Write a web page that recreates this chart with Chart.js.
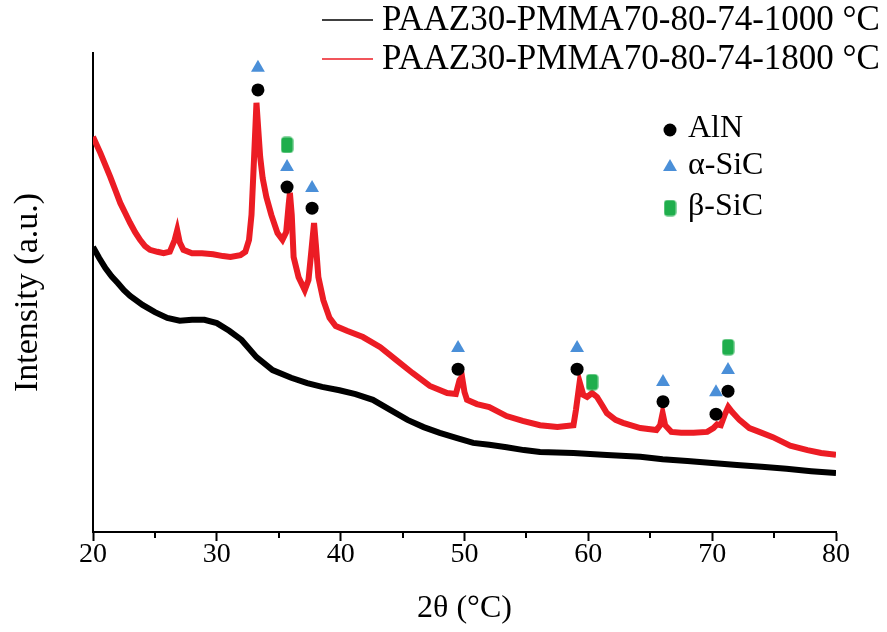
<!DOCTYPE html>
<html><head><meta charset="utf-8">
<script src="https://cdn.jsdelivr.net/npm/chart.js@4.4.0/dist/chart.umd.min.js"></script>
<style>html,body{margin:0;padding:0;background:#fff}</style>
</head><body>
<canvas id="c" width="887" height="632"></canvas>
<script>
// ---- data ----
const seriesNames = ['PAAZ30-PMMA70-80-74-1000 °C', 'PAAZ30-PMMA70-80-74-1800 °C'];
const xTicks = [20, 30, 40, 50, 60, 70, 80];
const xMinorTicks = [25, 35, 45, 55, 65, 75];

const s1000X = [20.0,20.5,21.0,21.5,22.0,22.5,23.0,24.0,25.0,26.0,27.0,28.0,29.0,30.0,31.0,32.0,33.2,34.5,36.0,37.3,38.5,39.9,41.2,42.6,44.0,45.4,46.7,48.0,49.4,50.7,52.0,53.4,54.8,56.1,58.8,61.5,64.2,66.0,68.0,70.0,72.0,74.0,76.0,78.0,80.0];
const s1000Y = [595,572,551,534,520,505,493,474,459,447,441,443,443,436,420,401,365,338,322,311,303,296,288,276,255,234,219,207,196,186,182,177,171,167,165,161,157,152,148,144,140,136,132,127,123];

const s1800X = [20.0,20.3,20.6,21.0,21.4,21.8,22.2,22.6,23.0,23.4,23.8,24.2,24.6,25.2,25.7,26.2,26.6,26.8,27.0,27.3,28.0,28.8,29.7,30.5,31.1,31.9,32.3,32.6,32.8,33.0,33.2,33.35,33.5,33.7,34.0,34.4,34.9,35.3,35.6,35.8,35.9,36.05,36.2,36.6,37.1,37.4,37.6,37.85,38.0,38.2,38.6,39.1,39.6,40.5,41.8,43.2,44.5,45.8,47.2,48.6,49.3,49.6,49.8,50.0,50.2,51.0,52.0,53.4,54.7,56.1,57.5,58.8,59.0,59.3,59.6,59.9,60.3,60.7,61.1,61.5,62.2,62.8,64.2,65.5,65.8,66.0,66.2,66.7,67.5,68.5,69.6,70.1,70.4,70.7,71.0,71.3,71.6,72.2,73.0,73.8,74.9,76.3,77.7,78.8,80.0];
const s1800Y = [825,808,791,766,741,714,687,666,645,626,610,597,589,585,582,585,610,630,605,589,582,582,580,576,574,578,585,610,662,777,896,839,783,739,699,662,624,610,626,683,708,662,574,532,505,526,578,645,599,532,484,447,430,420,407,386,359,332,305,290,288,317,324,292,276,267,261,242,232,223,219,223,255,313,286,282,290,282,265,248,234,228,217,213,223,248,223,209,207,207,209,217,225,223,244,261,251,234,217,209,198,180,171,165,161];

const phaseNames = ['AlN', 'α-SiC', 'β-SiC'];
const alnX = [33.32,35.67,37.69,49.48,59.09,66.03,70.31,71.28];
const alnY = [923,720,676,340,340,272,246,294];
const aSicX = [33.32,35.67,37.69,49.48,59.09,66.03,70.31,71.28];
const aSicY = [969,762,718,384,384,313,292,338];
const bSicX = [35.67,60.30,71.28];
const bSicY = [808,313,386];

// ---- styles ----
const RED = '#ec1c24', BLACK = '#000000', BLUE = '#4a8fd8', GREEN = '#1fae4c';
const SERIF = '"Liberation Serif", "Times New Roman", serif';

const pts = (xs, ys) => xs.map((x, i) => ({x, y: ys[i]}));

// rounded tall rectangle for beta-SiC
function makeGreen() {
  const c = document.createElement('canvas');
  c.width = 13; c.height = 17;
  const g = c.getContext('2d');
  g.fillStyle = GREEN;
  g.beginPath();
  g.roundRect(0.5, 0.5, 12, 16, 3.5);
  g.fill();
  return c;
}
const greenImg = makeGreen();

const markerStyles = [
  {pointStyle: 'circle', radius: 6.5, color: BLACK},
  {pointStyle: 'triangle', radius: 8, color: BLUE},
  {pointStyle: greenImg, radius: 8, color: GREEN}
];

const overlay = {
  id: 'overlay',
  afterDraw(chart) {
    const ctx = chart.ctx;
    const xs = chart.scales.x;
    const bottom = chart.chartArea.bottom;
    ctx.save();
    // minor ticks
    ctx.strokeStyle = '#000'; ctx.lineWidth = 2;
    xMinorTicks.forEach(v => {
      const px = Math.round(xs.getPixelForValue(v));
      ctx.beginPath(); ctx.moveTo(px, bottom); ctx.lineTo(px, bottom + 6); ctx.stroke();
    });
    // top legend
    ctx.font = '35px ' + SERIF;
    ctx.textBaseline = 'middle';
    ctx.fillStyle = '#000';
    const cols = [BLACK, RED];
    const ly = [20, 59];
    seriesNames.forEach((n, i) => {
      ctx.strokeStyle = cols[i]; ctx.lineWidth = 1.5;
      ctx.beginPath(); ctx.moveTo(322, ly[i]); ctx.lineTo(373, ly[i]); ctx.stroke();
      ctx.fillText(n, 382, ly[i] + 1);
    });
    // phase legend
    ctx.font = '32px ' + SERIF;
    const py = [130, 167, 208];
    phaseNames.forEach((n, i) => {
      const m = markerStyles[i];
      ctx.fillStyle = m.color; ctx.strokeStyle = m.color;
      Chart.helpers.drawPoint(ctx, {pointStyle: m.pointStyle, radius: m.radius, rotation: 0, borderWidth: 0}, 670, py[i]);
      ctx.fillStyle = '#000';
      ctx.fillText(n, 688, py[i] - 1);
    });
    ctx.restore();
  }
};

new Chart(document.getElementById('c'), {
  type: 'line',
  data: {
    datasets: [
      {label: seriesNames[0], data: pts(s1000X, s1000Y), borderColor: BLACK, borderWidth: 6, pointRadius: 0, tension: 0, order: 5},
      {label: seriesNames[1], data: pts(s1800X, s1800Y), borderColor: RED, borderWidth: 6, pointRadius: 0, tension: 0, order: 4},
      {label: phaseNames[0], data: pts(alnX, alnY), showLine: false, pointStyle: 'circle', pointRadius: 6.5, backgroundColor: BLACK, borderWidth: 0, order: 1},
      {label: phaseNames[1], data: pts(aSicX, aSicY), showLine: false, pointStyle: 'triangle', pointRadius: 8, backgroundColor: BLUE, borderColor: BLUE, borderWidth: 0, order: 1},
      {label: phaseNames[2], data: pts(bSicX, bSicY), showLine: false, pointStyle: greenImg, pointRadius: 8, backgroundColor: GREEN, borderWidth: 0, order: 1}
    ]
  },
  options: {
    responsive: false,
    animation: false,
    devicePixelRatio: 1,
    layout: {padding: {left: 0, top: 53, right: 51, bottom: 0}},
    plugins: {legend: {display: false}, tooltip: {enabled: false}},
    scales: {
      x: {
        type: 'linear', min: 20, max: 80,
        afterBuildTicks: s => { s.ticks = xTicks.map(v => ({value: v})); },
        afterFit: s => { s.height = 100; },
        grid: {drawOnChartArea: false, drawTicks: true, tickLength: 9, tickColor: '#000', tickWidth: 2},
        border: {color: '#000', width: 2},
        ticks: {color: '#000', font: {family: SERIF, size: 28}, padding: -3, maxRotation: 0, autoSkip: false},
        title: {display: true, text: '2θ (°C)', color: '#000', font: {family: SERIF, size: 32}, padding: {top: 0, bottom: 4}}
      },
      y: {
        min: 0, max: 1000,
        afterFit: s => { s.width = 93; },
        grid: {drawOnChartArea: false, drawTicks: false},
        border: {color: '#000', width: 2},
        ticks: {display: false},
        title: {display: true, text: 'Intensity (a.u.)', color: '#000', font: {family: SERIF, size: 34}, padding: {top: 8}}
      }
    }
  },
  plugins: [overlay]
});
</script>
</body></html>
